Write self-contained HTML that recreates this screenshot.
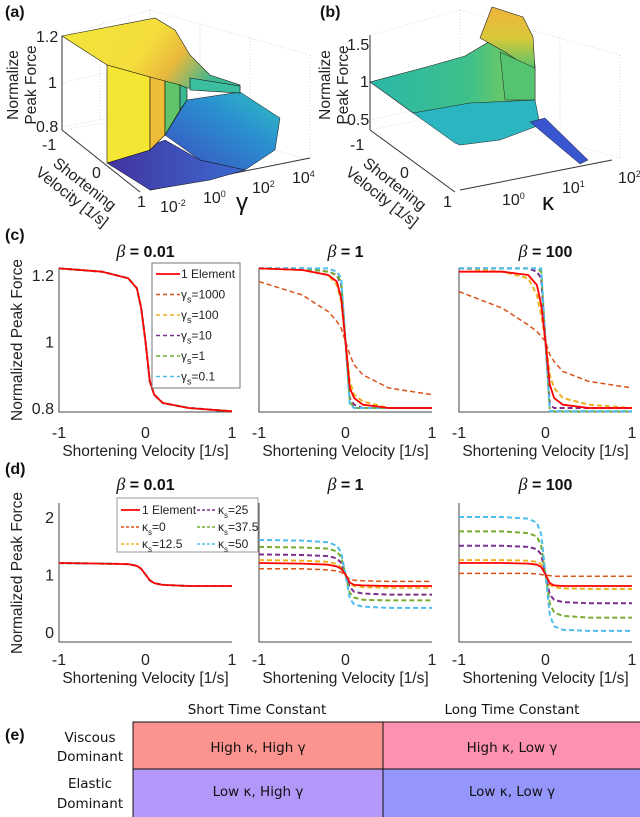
<!DOCTYPE html>
<html><head><meta charset="utf-8"><style>
body{margin:0;background:#fff;}
svg{display:block;font-family:"Liberation Sans",sans-serif;}
.tk{font-size:16px;fill:#222;}
.ti{font-size:16px;font-weight:bold;fill:#111;}
.xl{font-size:15.5px;fill:#222;}
.lg{font-size:12px;fill:#222;}
.tb{font-family:"DejaVu Sans",sans-serif;font-size:13.5px;fill:#111;}
</style></head><body>
<svg id="fig" width="640" height="817" viewBox="0 0 640 817">
<g>
<defs>
<linearGradient id="topA" x1="0" y1="0" x2="1" y2="0.3"><stop offset="0" stop-color="#f3e63a"/><stop offset="0.55" stop-color="#f4dc3c"/><stop offset="0.75" stop-color="#e9b83c"/><stop offset="1" stop-color="#3fb890"/></linearGradient>
<linearGradient id="lowA" x1="0" y1="1" x2="1" y2="0"><stop offset="0" stop-color="#3b4fc0"/><stop offset="0.6" stop-color="#2a8fd0"/><stop offset="1" stop-color="#30c0c0"/></linearGradient>
<linearGradient id="botA" x1="0" y1="0" x2="1" y2="0"><stop offset="0" stop-color="#4433a0"/><stop offset="1" stop-color="#3a6bd0"/></linearGradient>
<linearGradient id="upB" x1="0" y1="0" x2="1" y2="0"><stop offset="0" stop-color="#2ab7a8"/><stop offset="0.6" stop-color="#3fc08a"/><stop offset="1" stop-color="#8cd04a"/></linearGradient>
<linearGradient id="pkB" x1="0" y1="0" x2="0" y2="1"><stop offset="0" stop-color="#f0b43c"/><stop offset="0.5" stop-color="#d8c83a"/><stop offset="1" stop-color="#50c46c"/></linearGradient>
</defs>
<g stroke="#ccc" stroke-dasharray="1,2" stroke-width="0.7" fill="none">
<path d="M62,36 L62,130 M62,130 L150,115 M150,10 L150,115 M150,10 L62,36 M62,83 L150,63 M62,127 L150,110 M150,115 L310,160 M150,10 L310,55 M310,55 L310,160 M100,25 L100,120 M200,24 L200,130 M250,38 L250,145"/>
</g>
<line x1="62" y1="36" x2="62" y2="130" stroke="#333"/>
<line x1="62" y1="130" x2="140" y2="192" stroke="#333"/>
<line x1="150" y1="190" x2="310" y2="158" stroke="#333"/>
<polygon points="107,163 150,190 210,180 245,170 200,160 165,140" fill="url(#botA)" stroke="#111" stroke-width="0.5"/>
<polygon points="165,135 187,100 240,92 280,118 275,150 245,170 200,160" fill="url(#lowA)" stroke="#111" stroke-width="0.5"/>
<polygon points="62,36 155,18 175,30 190,55 210,75 240,85 240,90 187,88 107,65" fill="url(#topA)" stroke="#222" stroke-width="0.6"/>
<polygon points="190,78 240,86 240,93 190,90" fill="#3bbfa0" stroke="#111" stroke-width="0.6"/>
<polygon points="107,65 150,77 150,150 107,163" fill="#f5e633" stroke="#111" stroke-width="0.6"/>
<polygon points="150,77 165,81 165,135 150,150" fill="#eebd38" stroke="#111" stroke-width="0.6"/>
<polygon points="165,81 180,85 180,110 165,135" fill="#5fc46a" stroke="#111" stroke-width="0.6"/>
<polygon points="180,85 187,88 187,100 180,110" fill="#3ab892" stroke="#111" stroke-width="0.6"/>
</g>
<text x="5" y="17" class="ti">(a)</text>
<text class="tk" font-size="14"><tspan x="36" y="42">1.2</tspan><tspan x="48" y="88">1</tspan><tspan x="36" y="132">0.8</tspan></text>
<text class="tk" font-size="14"><tspan x="42" y="150">-1</tspan><tspan x="92" y="178">0</tspan><tspan x="137" y="207">1</tspan></text>
<text class="tk" font-size="13"><tspan x="160" y="212">10<tspan dy="-6" font-size="9">-2</tspan></tspan><tspan x="203" y="203">10<tspan dy="-6" font-size="9">0</tspan></tspan><tspan x="252" y="193">10<tspan dy="-6" font-size="9">2</tspan></tspan><tspan x="292" y="183">10<tspan dy="-6" font-size="9">4</tspan></tspan></text>
<text x="236" y="210" font-size="24" fill="#111">γ</text>
<text transform="translate(18,85) rotate(-90)" text-anchor="middle" class="xl"><tspan x="0" y="0">Normalize</tspan><tspan x="0" y="18">Peak Force</tspan></text>
<text transform="translate(52,165) rotate(38)" class="xl"><tspan x="0" y="0">Shortening</tspan><tspan x="-8" y="18">Velocity [1/s]</tspan></text>

<g>
<g stroke="#ccc" stroke-dasharray="1,2" stroke-width="0.7" fill="none">
<path d="M370,35 L370,130 M370,130 L460,112 M460,10 L460,112 M460,10 L370,35 M460,112 L620,158 M460,10 L620,55 M620,55 L620,158 M500,20 L500,125 M560,35 L560,140 M370,82 L460,60 M370,120 L460,100"/>
</g>
<line x1="370" y1="35" x2="370" y2="130" stroke="#333"/>
<line x1="370" y1="130" x2="455" y2="192" stroke="#333"/>
<line x1="460" y1="190" x2="612" y2="160" stroke="#333"/>
<polygon points="370,82 430,66 465,56 492,40 510,25 530,40 535,65 535,100 480,104 413,113" fill="url(#upB)" stroke="#222" stroke-width="0.6"/>
<polygon points="480,38 492,7 523,17 533,37 535,70 520,62 505,52" fill="url(#pkB)" stroke="#222" stroke-width="0.6"/>
<polygon points="500,52 535,68 535,100 505,100" fill="#55c470" stroke="#222" stroke-width="0.5"/>
<polygon points="413,113 470,103 535,100 540,125 500,140 460,145 455,143" fill="#2ab5c0" stroke="#222" stroke-width="0.5"/>
<polygon points="530,122 545,118 588,160 580,164" fill="#3a55d0" stroke="#222" stroke-width="0.5"/>
</g>
<text x="320" y="17" class="ti">(b)</text>
<text transform="translate(330,85) rotate(-90)" text-anchor="middle" class="xl"><tspan x="0" y="0">Normalize</tspan><tspan x="0" y="18">Peak Force</tspan></text>
<text class="tk" font-size="14"><tspan x="347" y="50">1.5</tspan><tspan x="360" y="87">1</tspan><tspan x="347" y="125">0.5</tspan></text>
<text class="tk" font-size="14"><tspan x="350" y="150">-1</tspan><tspan x="400" y="178">0</tspan><tspan x="443" y="207">1</tspan></text>
<text class="tk" font-size="13"><tspan x="502" y="205">10<tspan dy="-6" font-size="9">0</tspan></tspan><tspan x="562" y="193">10<tspan dy="-6" font-size="9">1</tspan></tspan><tspan x="618" y="183">10<tspan dy="-6" font-size="9">2</tspan></tspan></text>
<text x="542" y="210" font-size="24" fill="#111">κ</text>
<text transform="translate(362,165) rotate(38)" class="xl"><tspan x="0" y="0">Shortening</tspan><tspan x="-8" y="18">Velocity [1/s]</tspan></text>

<text x="5" y="240" class="ti">(c)</text>
<text x="5" y="474" class="ti">(d)</text>
<text transform="translate(22,340) rotate(-90)" text-anchor="middle" class="xl" font-size="16">Normalized Peak Force</text>
<text transform="translate(22,573) rotate(-90)" text-anchor="middle" class="xl" font-size="16">Normalized Peak Force</text>
<g id="charts"></g>

<text x="5" y="740" class="ti">(e)</text>
<text x="257" y="714" text-anchor="middle" class="tb">Short Time Constant</text>
<text x="512" y="714" text-anchor="middle" class="tb">Long Time Constant</text>
<text text-anchor="middle" class="tb"><tspan x="90" y="742">Viscous</tspan><tspan x="90" y="761">Dominant</tspan></text>
<text text-anchor="middle" class="tb"><tspan x="90" y="788">Elastic</tspan><tspan x="90" y="808">Dominant</tspan></text>
<rect x="133" y="722" width="250" height="47" fill="#fb948f" stroke="#111"/>
<rect x="383" y="722" width="258" height="47" fill="#fd91b1" stroke="#111"/>
<rect x="133" y="769" width="250" height="50" fill="#b397f9" stroke="#111"/>
<rect x="383" y="769" width="258" height="50" fill="#9596fb" stroke="#111"/>
<text x="258" y="752" text-anchor="middle" class="tb">High κ, High γ</text>
<text x="512" y="752" text-anchor="middle" class="tb">High κ, Low γ</text>
<text x="258" y="796" text-anchor="middle" class="tb">Low κ, High γ</text>
<text x="512" y="796" text-anchor="middle" class="tb">Low κ, Low γ</text>
</svg>
<script>
const xs = [-1,-0.5,-0.2,-0.1,-0.05,0,0.05,0.1,0.2,0.5,1];
const xTicks = [-1,0,1];
const betaTitles = ["0.01","1","100"];
const cTicks = [0.8,1,1.2];
const dTicks = [0,1,2];
const seriesColors = ["#ff0000","#d95319","#edb120","#7e2f8e","#77ac30","#4dbeee"];
const cNames = ["1 Element","=1000","=100","=10","=1","=0.1"];
const dNames = ["1 Element","=0","=12.5","=25","=37.5","=50"];
const c1 = [
 [1.22,1.21,1.19,1.16,1.1,1.0,0.88,0.84,0.815,0.8,0.79],
 [1.22,1.21,1.19,1.16,1.1,1.0,0.88,0.84,0.815,0.8,0.79],
 [1.22,1.21,1.19,1.16,1.1,1.0,0.88,0.84,0.815,0.8,0.79],
 [1.22,1.21,1.19,1.16,1.1,1.0,0.88,0.84,0.815,0.8,0.79],
 [1.22,1.21,1.19,1.16,1.1,1.0,0.88,0.84,0.815,0.8,0.79],
 [1.22,1.21,1.19,1.16,1.1,1.0,0.88,0.84,0.815,0.8,0.79]];
const c2 = [
 [1.22,1.215,1.2,1.18,1.13,1.0,0.86,0.83,0.81,0.8,0.8],
 [1.18,1.14,1.09,1.06,1.04,1.0,0.96,0.93,0.9,0.86,0.84],
 [1.22,1.215,1.2,1.17,1.12,1.0,0.88,0.84,0.82,0.8,0.8],
 [1.22,1.22,1.21,1.2,1.17,1.0,0.83,0.81,0.8,0.8,0.8],
 [1.22,1.22,1.21,1.2,1.18,1.0,0.82,0.8,0.8,0.8,0.8],
 [1.22,1.22,1.22,1.21,1.19,1.0,0.81,0.8,0.8,0.8,0.8]];
const c3 = [
 [1.21,1.21,1.2,1.17,1.11,1.0,0.87,0.83,0.81,0.8,0.8],
 [1.15,1.1,1.05,1.03,1.015,1.0,0.96,0.94,0.91,0.88,0.86],
 [1.22,1.21,1.19,1.14,1.08,1.0,0.9,0.86,0.83,0.81,0.8],
 [1.22,1.22,1.22,1.21,1.19,1.0,0.81,0.8,0.8,0.8,0.8],
 [1.22,1.22,1.22,1.22,1.21,1.0,0.79,0.79,0.79,0.79,0.79],
 [1.22,1.22,1.22,1.22,1.22,1.0,0.79,0.79,0.79,0.79,0.79]];
const d1 = [
 [1.2,1.19,1.18,1.15,1.1,1.0,0.9,0.85,0.82,0.8,0.8],
 [1.2,1.19,1.18,1.15,1.1,1.0,0.9,0.85,0.82,0.8,0.8],
 [1.2,1.19,1.18,1.15,1.1,1.0,0.9,0.85,0.82,0.8,0.8],
 [1.2,1.19,1.18,1.15,1.1,1.0,0.9,0.85,0.82,0.8,0.8],
 [1.2,1.19,1.18,1.15,1.1,1.0,0.9,0.85,0.82,0.8,0.8],
 [1.2,1.19,1.18,1.15,1.1,1.0,0.9,0.85,0.82,0.8,0.8]];
const d2 = [
 [1.2,1.19,1.17,1.14,1.1,1.0,0.86,0.82,0.81,0.8,0.8],
 [1.1,1.1,1.08,1.06,1.04,0.98,0.92,0.9,0.89,0.88,0.88],
 [1.25,1.24,1.22,1.18,1.12,1.0,0.85,0.8,0.78,0.77,0.77],
 [1.35,1.34,1.32,1.28,1.2,1.0,0.78,0.7,0.67,0.65,0.65],
 [1.48,1.47,1.45,1.4,1.3,1.0,0.68,0.6,0.56,0.55,0.55],
 [1.6,1.59,1.56,1.5,1.38,1.0,0.58,0.48,0.44,0.42,0.42]];
const d3 = [
 [1.2,1.2,1.19,1.17,1.13,1.0,0.85,0.81,0.8,0.8,0.8],
 [1.02,1.02,1.02,1.01,1.0,0.99,0.98,0.97,0.97,0.97,0.97],
 [1.25,1.25,1.24,1.22,1.18,1.0,0.82,0.78,0.76,0.75,0.75],
 [1.5,1.5,1.48,1.44,1.35,1.0,0.65,0.56,0.52,0.5,0.5],
 [1.75,1.75,1.72,1.66,1.5,1.0,0.5,0.34,0.28,0.25,0.25],
 [2.0,2.0,1.97,1.9,1.7,1.0,0.3,0.1,0.04,0.02,0.02]];

const NS="http://www.w3.org/2000/svg";
const root=document.getElementById('charts');
const panelX=[59,259,459], panelW=173;
function mk(tag,attrs,parent){const e=document.createElementNS(NS,tag);for(const k in attrs)e.setAttribute(k,attrs[k]);(parent||root).appendChild(e);return e;}
function drawRow(rowData,yScale,top,bottom,ticks,tickFmt,titleY,tickY,xlabY,rowKey){
 for(let p=0;p<3;p++){
  const x0=panelX[p];
  const xS=v=>x0+(v+1)/2*panelW;
  const g=mk('g',{});
  
  
  const t=mk('text',{x:x0+panelW/2,y:titleY,'text-anchor':'middle',class:'ti'},g);
  
  
  const b=mk('tspan',{'font-family':'Liberation Serif, serif','font-style':'italic','font-weight':'normal','font-size':'18'},t);b.textContent='β';
  const r=mk('tspan',{},t);r.textContent=' = '+betaTitles[p];
  const ax=mk('path',{d:`M${x0},${top} L${x0},${bottom} L${x0+panelW},${bottom}`,fill:'none',stroke:'#444','stroke-width':1},g);
  
  
  xTicks.forEach(v=>{const tx=mk('text',{x:xS(v),y:tickY,'text-anchor':'middle',class:'tk'},g);tx.textContent=v;
   
   });
  const xl=mk('text',{x:x0+panelW/2,y:xlabY,'text-anchor':'middle',class:'xl'},g);xl.textContent='Shortening Velocity [1/s]';
  
  
  if(p===0){ticks.forEach(v=>{const ty=mk('text',{x:x0-5,y:yScale(v)+6,'text-anchor':'end',class:'tk'},g);ty.textContent=tickFmt(v);
   
   });}
  const data=rowData[p];
  const order=[1,2,3,4,5,0];
  order.forEach(s=>{
   const pts=xs.map((v,i)=>xS(v).toFixed(1)+','+yScale(data[s][i]).toFixed(1)).join(' ');
   const ln=mk('polyline',{points:pts,fill:'none',stroke:seriesColors[s],'stroke-width':s===0?1.8:(s>=2?2:1.5),'stroke-dasharray':s===0?'none':'5,3','stroke-linejoin':'round'},g);
   
   
  });
 }
}
const cY=v=>275+(1.2-v)*332.5;
const dY=v=>632-v*57.5;
drawRow([c1,c2,c3],cY,268,412,cTicks,v=>v===1?'1':v.toFixed(1),257,438,456,'panel-c');
drawRow([d1,d2,d3],dY,503,642,dTicks,v=>String(v),490,665,683,'panel-d');

const lc=mk('g',{});


mk('rect',{x:152,y:263,width:88,height:125,fill:'#fff',stroke:'#777'},lc);
cNames.forEach((n,i)=>{const y=274+i*20.5;
 const seg=mk('line',{x1:156,y1:y,x2:180,y2:y,stroke:seriesColors[i],'stroke-width':i===0?1.8:1.5,'stroke-dasharray':i===0?'none':'4,3'},lc);
 
 
 const t=mk('text',{x:181,y:y+4,class:'lg'},lc);
 if(i===0){t.textContent=n;}else{const a=mk('tspan',{},t);a.textContent='γ';const s=mk('tspan',{dy:4,'font-size':9},t);s.textContent='s';const c=mk('tspan',{dy:-4},t);c.textContent=n;}
 
 });
const ld=mk('g',{});


mk('rect',{x:117,y:498,width:141,height:54,fill:'#fff',stroke:'#999'},ld);
dNames.forEach((n,i)=>{const col=i<3?0:1;const row=i%3;const y=510+row*17;const lx=col?197:121;
 const seg=mk('line',{x1:lx,y1:y,x2:lx+19,y2:y,stroke:seriesColors[i],'stroke-width':i===0?1.8:1.5,'stroke-dasharray':i===0?'none':'3,2'},ld);
 
 
 const t=mk('text',{x:lx+21,y:y+4,class:'lg','font-size':11},ld);
 if(i===0){t.textContent=n;}else{const a=mk('tspan',{},t);a.textContent='κ';const s=mk('tspan',{dy:4,'font-size':8},t);s.textContent='s';const c=mk('tspan',{dy:-4},t);c.textContent=n;}
 
 });
</script>
</body></html>
